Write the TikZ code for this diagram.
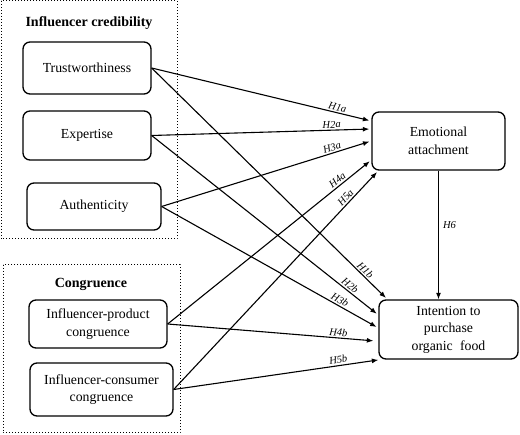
\documentclass[tikz,border=0pt]{standalone}
\usepackage{fontspec}
\setmainfont{Liberation Serif}
\usetikzlibrary{arrows.meta}
\begin{document}
\begin{tikzpicture}[x=1pt,y=-1pt,
  boxstyle/.style={draw, line width=1.3pt, rounded corners=7pt, align=center, inner sep=0pt,
    font=\fontsize{13.8}{17.5}\selectfont},
  groupbox/.style={draw, dotted, line width=1pt},
  titlestyle/.style={font=\fontsize{14}{16}\selectfont\bfseries, inner sep=0pt},
  pathstyle/.style={line width=1.1pt, -{Latex[length=6.5pt,width=5pt]}, shorten >=2pt},
  hlab/.style={font=\fontsize{10.5}{12}\selectfont\itshape, sloped, above, inner sep=1.5pt}
]
\useasboundingbox (0,0) rectangle (520,435);
% group frames
\draw[groupbox] (1,1) rectangle (177,239);
\draw[groupbox] (3,265) rectangle (180,433);
\node[titlestyle] (t1) at (89,23) {Influencer credibility};
\node[titlestyle] (t2) at (91,284) {Congruence};
% construct boxes
\node[boxstyle, minimum width=128pt, minimum height=52pt] (tw) at (87,68) {Trustworthiness};
\node[boxstyle, minimum width=128pt, minimum height=49pt] (ex) at (87,135.5) {Expertise};
\node[boxstyle, minimum width=134pt, minimum height=47pt] (au) at (94,206.5) {Authenticity};
\node[boxstyle, minimum width=138pt, minimum height=48pt] (ip) at (98,324) {Influencer-product\\congruence};
\node[boxstyle, minimum width=143pt, minimum height=53pt] (ic) at (101.5,389.5) {Influencer-consumer\\congruence};
\node[boxstyle, minimum width=133pt, minimum height=58pt] (ea) at (438.5,141) {Emotional\\attachment};
\node[boxstyle, minimum width=139pt, minimum height=59pt] (pi) at (448.5,329.5) {Intention to\\purchase\\organic\; food};
% paths to emotional attachment
\draw[pathstyle] (tw.east) -- node[hlab, pos=0.84] {H1a} ([yshift=20pt]ea.west);
\draw[pathstyle] (ex.east) -- node[hlab, pos=0.82] {H2a} ([yshift=12pt]ea.west);
\draw[pathstyle] (au.east) -- node[hlab, pos=0.82] {H3a} (ea.west);
\draw[pathstyle] (ip.east) -- node[hlab, pos=0.85] {H4a} ([yshift=-19pt]ea.west);
\draw[pathstyle] (ic.east) -- node[hlab, pos=0.86] {H5a} ([xshift=7pt]ea.south west);
% paths to intention
\draw[pathstyle] (tw.east) -- node[hlab, pos=0.89] {H1b} ([xshift=9pt]pi.north west);
\draw[pathstyle] (ex.east) -- node[hlab, pos=0.86] {H2b} ([yshift=14.5pt]pi.west);
\draw[pathstyle] (au.east) -- node[hlab, pos=0.81] {H3b} ([yshift=1.5pt]pi.west);
\draw[pathstyle] (ip.east) -- node[hlab, pos=0.82] {H4b} ([yshift=-11.5pt,xshift=-3pt]pi.west);
\draw[pathstyle] (ic.east) -- node[hlab, pos=0.80] {H5b} ([xshift=2pt]pi.south west);
% H6
\draw[pathstyle, shorten >=0pt] (ea.south) -- node[font=\fontsize{10.5}{12}\selectfont\itshape, right, pos=0.42, inner sep=4pt] {H6} (ea.south |- pi.north);
\end{tikzpicture}
\end{document}
